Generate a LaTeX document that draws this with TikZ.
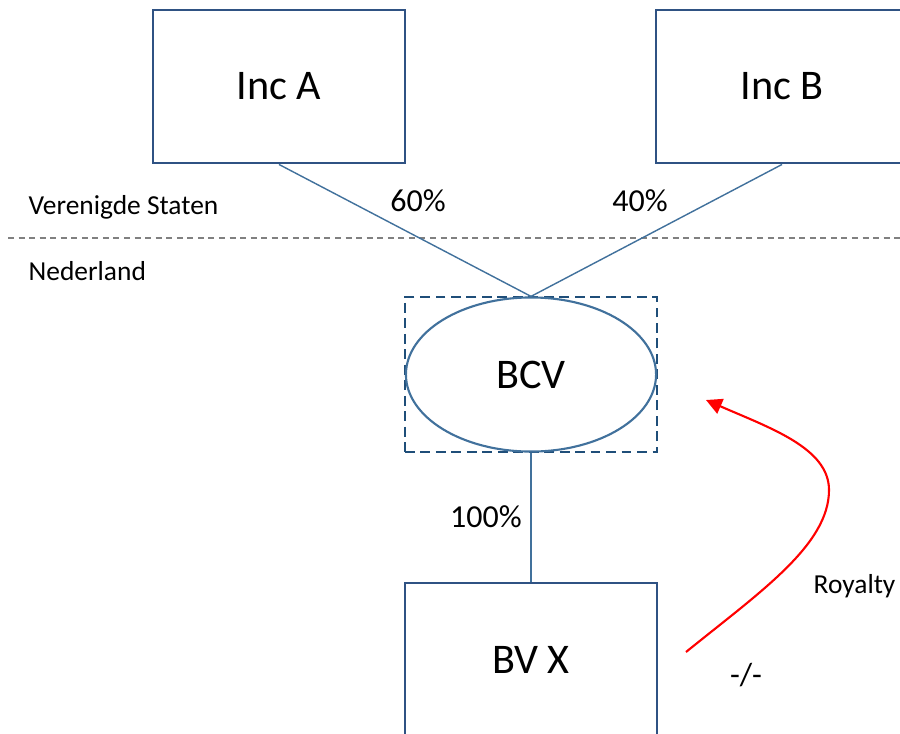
\documentclass[tikz,border=0pt]{standalone}
\usepackage{fontspec}
\setmainfont{Carlito}
\usetikzlibrary{shapes.geometric,arrows.meta}
\definecolor{boxblue}{HTML}{2F5283}
\definecolor{lineblue}{HTML}{41719C}
\definecolor{dashblue}{HTML}{1F4E79}
\tikzset{
  company/.style={draw=boxblue, line width=0.8pt, minimum width=2.52cm,
    minimum height=1.53cm, inner sep=0pt, font=\fontsize{12}{14}\selectfont},
  holding/.style={ellipse, draw=lineblue, line width=0.6pt, minimum width=2.5cm,
    minimum height=1.54cm, inner sep=0pt, font=\fontsize{12}{14}\selectfont},
  taxbox/.style={draw=dashblue, line width=0.7pt, dash pattern=on 2.8pt off 1.6pt,
    minimum width=2.52cm, minimum height=1.55cm, inner sep=0pt},
  share/.style={draw=lineblue, line width=0.4pt},
  pct/.style={font=\fontsize{9.1}{11}\selectfont},
  country/.style={anchor=west, inner sep=0pt, font=\fontsize{7.8}{9}\selectfont}
}
\begin{document}
\begin{tikzpicture}[x=0.01cm, y=-0.01cm]
  \clip (0,0) rectangle (900,733);
  \fill[white] (0,0) rectangle (900,733);
  % border between the two countries
  \coordinate (borderL) at (8,238);
  \coordinate (borderR) at (900,238);
  \draw[gray, line width=0.4pt, dash pattern=on 1.7pt off 1.3pt] (borderL) -- (borderR);
  \node[country] (us) at (28,207) {Verenigde Staten};
  \node[country] (nl) at (28,271) {Nederland};
  % entities
  \node[company] (incA) at (279,86.5) {Inc A};
  \node[company] (incB) at (782,86.5) {Inc B};
  \node[taxbox] (bcvbox) at (531,374.5) {};
  \node[holding] (bcv) at (531,374.5) {BCV};
  \node[company] (bvx) at (531,659.5) {BV X};
  % shareholdings
  \draw[share] (incA.south) -- (bcv.north);
  \draw[share] (incB.south) -- (bcv.north);
  \draw[share] (bcv.south) -- (bvx.north);
  \node[pct] (pA) at (418,201) {60\%};
  \node[pct] (pB) at (640,201) {40\%};
  \node[pct] (pX) at (486,517) {100\%};
  % royalty flow
  \coordinate (royFrom) at (686,652);
  \coordinate (royMid) at (829,490);
  \coordinate (royTo) at (706,400);
  \draw[red, line width=0.6pt, -{Triangle[length=4.5pt, width=4.5pt]}]
    (royFrom) .. controls (760,592) and (829,545) .. (royMid)
    .. controls (829,448) and (770,428) .. (royTo);
  \node[country] (roy) at (813,586) {Royalty};
  \node[pct] (nil) at (746,675) {-/-};
\end{tikzpicture}
\end{document}
